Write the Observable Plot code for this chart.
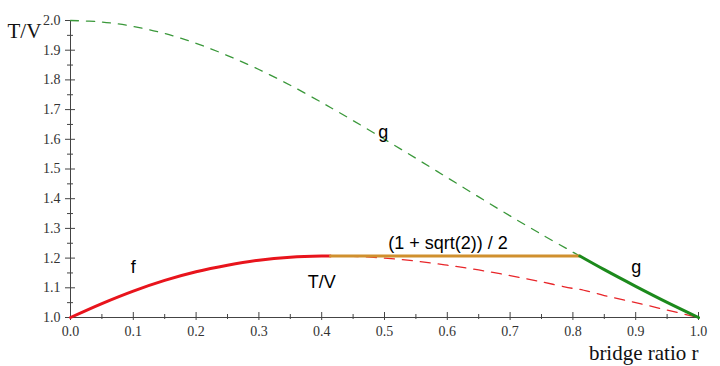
<!DOCTYPE html>
<html>
<head>
<meta charset="utf-8">
<script src="https://cdn.jsdelivr.net/npm/d3@7"></script>
<script src="https://cdn.jsdelivr.net/npm/@observablehq/plot@0.6"></script>
<style>
  html, body { margin: 0; padding: 0; background: #fff; }
  #chart { width: 720px; height: 366px; }
</style>
</head>
<body>
<div id="chart"></div>
<script>
// bridge ratio r samples
const rValues = [0, 0.05, 0.1, 0.15, 0.2, 0.25, 0.3, 0.35, 0.4, 0.414, 0.45, 0.5, 0.55, 0.6, 0.65, 0.7, 0.75, 0.8, 0.811, 0.85, 0.9, 0.95, 1.0];
// f curve (T/V)
const fValues = [1.000, 1.047, 1.089, 1.125, 1.154, 1.176, 1.193, 1.203, 1.207, 1.207, 1.206, 1.200, 1.190, 1.176, 1.160, 1.141, 1.120, 1.098, 1.095, 1.074, 1.050, 1.025, 1.000];
// g curve
const gValues = [2.000, 1.995, 1.980, 1.956, 1.923, 1.882, 1.835, 1.782, 1.724, 1.707, 1.663, 1.600, 1.536, 1.471, 1.406, 1.342, 1.280, 1.220, 1.207, 1.161, 1.105, 1.051, 1.000];
// plateau (1 + sqrt(2)) / 2
const plateauR = [0.414, 0.811];
const plateauValue = 1.2071;
const fSolidEnd = 0.414;
const gSolidStart = 0.811;

const xTicks = [0, 0.1, 0.2, 0.3, 0.4, 0.5, 0.6, 0.7, 0.8, 0.9, 1.0];
const xMinor = [0.05, 0.15, 0.25, 0.35, 0.45, 0.55, 0.65, 0.75, 0.85, 0.95];
const yTicks = [1.0, 1.1, 1.2, 1.3, 1.4, 1.5, 1.6, 1.7, 1.8, 1.9, 2.0];
const yMinor = [1.05, 1.15, 1.25, 1.35, 1.45, 1.55, 1.65, 1.75, 1.85, 1.95];

const labelTexts = ["f", "T/V", "(1 + sqrt(2)) / 2", "g", "g"];
const labelR = [0.100, 0.400, 0.601, 0.498, 0.901];
const labelV = [1.170, 1.119, 1.249, 1.624, 1.170];

const pts = rValues.map((r, i) => ({r, f: fValues[i], g: gValues[i]}));
const fSolid = pts.filter(d => d.r <= fSolidEnd);
const fDash = pts.filter(d => d.r >= fSolidEnd);
const gDash = pts.filter(d => d.r <= gSolidStart);
const gSolid = pts.filter(d => d.r >= gSolidStart);
const plateau = plateauR.map(r => ({r, v: plateauValue}));
const labels = labelTexts.map((t, i) => ({t, r: labelR[i], v: labelV[i]}));

const serif = "'Liberation Serif', 'Times New Roman', serif";
const sans = "'Liberation Sans', Arial, sans-serif";
const axisColor = "#444";

const chart = Plot.plot({
  width: 720,
  height: 366,
  marginLeft: 70,
  marginRight: 22,
  marginTop: 20,
  marginBottom: 49,
  style: {background: "#fff", fontFamily: serif},
  x: {domain: [0, 1], label: null},
  y: {domain: [1, 2], label: null},
  marks: [
    // axes lines
    Plot.ruleY([1], {stroke: axisColor, strokeWidth: 1}),
    Plot.ruleX([0], {stroke: axisColor, strokeWidth: 1}),
    // y ticks crossing the axis
    Plot.ruleY(yTicks, {y: d => d, x1: 0, x2: 0, insetLeft: -5, insetRight: -5, stroke: axisColor}),
    Plot.ruleY(yMinor, {y: d => d, x1: 0, x2: 0, insetLeft: -3, insetRight: -3, stroke: axisColor}),
    Plot.axisY(yTicks, {anchor: "left", tickSize: 0, tickPadding: 10, tickFormat: d => d.toFixed(1), fontSize: 14, fill: "#333", fontFamily: serif, label: null}),
    // x ticks crossing the axis
    Plot.ruleX(xTicks, {x: d => d, y1: 1, y2: 1, insetTop: -5, insetBottom: -3, stroke: axisColor}),
    Plot.ruleX(xMinor, {x: d => d, y1: 1, y2: 1, insetTop: -3, insetBottom: -2, stroke: axisColor}),
    Plot.axisX(xTicks, {anchor: "bottom", tickSize: 0, tickPadding: 9, tickFormat: d => d.toFixed(1), fontSize: 14, fill: "#333", fontFamily: serif, label: null}),
    // curves
    Plot.line(gDash, {x: "r", y: "g", stroke: "#3a983a", strokeWidth: 1.3, strokeDasharray: "8,8", curve: "catmull-rom"}),
    Plot.line(fDash, {x: "r", y: "f", stroke: "#e8262a", strokeWidth: 1.3, strokeDasharray: "10,8", curve: "catmull-rom"}),
    Plot.line(fSolid, {x: "r", y: "f", stroke: "#e8141c", strokeWidth: 3, curve: "catmull-rom"}),
    Plot.line(plateau, {x: "r", y: "v", stroke: "#d0902e", strokeWidth: 3}),
    Plot.line(gSolid, {x: "r", y: "g", stroke: "#1c8a1c", strokeWidth: 3, curve: "catmull-rom"}),
    // labels
    Plot.text(labels, {x: "r", y: "v", text: "t", fontSize: 18, fill: "#000", fontFamily: sans}),
    // axis titles
    Plot.text(["T/V"], {frameAnchor: "top-left", dx: -63, dy: 3, fontSize: 21, fontFamily: serif, fill: "#111", textAnchor: "start"}),
    Plot.text(["bridge ratio r"], {frameAnchor: "bottom-right", dx: 0, dy: 42, fontSize: 21, fontFamily: serif, fill: "#111", textAnchor: "end"})
  ]
});
document.getElementById("chart").appendChild(chart);
</script>
</body>
</html>
